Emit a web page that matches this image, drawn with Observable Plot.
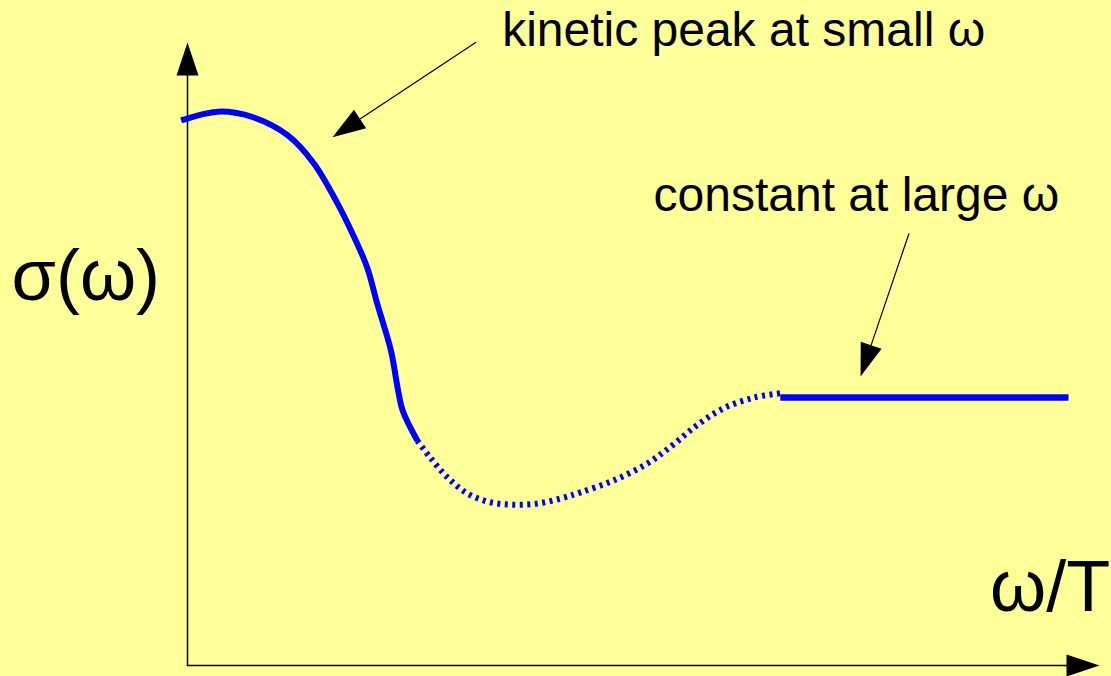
<!DOCTYPE html>
<html><head><meta charset="utf-8">
<script src="https://cdn.jsdelivr.net/npm/d3@7"></script>
<script src="https://cdn.jsdelivr.net/npm/@observablehq/plot@0.6"></script>
<style>html,body{margin:0;padding:0;background:#ffff99;overflow:hidden}#chart svg{display:block}</style>
</head><body><div id="chart"></div>
<script>
// ω/T (arbitrary units) and σ(ω) (arbitrary units)
const solidX = [-0.07, 0.34, 0.72, 1.10, 1.38, 1.64, 1.81, 1.97, 2.08, 2.23, 2.31, 2.36, 2.52];
const solidY = [8.75, 8.89, 8.80, 8.51, 8.07, 7.43, 6.93, 6.39, 5.81, 5.06, 4.41, 4.09, 3.61];
const dottedX = [2.52, 2.66, 2.85, 3.07, 3.32, 3.58, 3.84, 4.09, 4.31, 4.67, 5.04, 5.33, 5.59, 5.88, 6.21, 6.50];
const dottedY = [3.61, 3.34, 3.02, 2.76, 2.62, 2.58, 2.60, 2.68, 2.78, 2.97, 3.24, 3.55, 3.86, 4.13, 4.30, 4.37];
const flatX = [6.50, 9.66];
const flatY = [4.30, 4.30];

const noteText = ["kinetic peak at small ω", "constant at large ω"];
const noteX = [3.45, 5.11];
const noteY = [9.94, 7.30];

const titleText = ["σ(ω)", "ω/T"];
const titleX = [-1.93, 8.80];
const titleY = [5.86, 0.88];

// arrows: axes (x, y) and two annotation pointers
const arrowFromX = [0, 0, 3.16, 7.91];
const arrowFromY = [0, 0, 10.0, 6.93];
const arrowToX = [10, 0, 1.59, 7.38];
const arrowToY = [0, 10, 8.48, 4.64];

const W = 1111, H = 676, mL = 187, mR = 12, mT = 42, mB = 11;
const kx = (W - mL - mR) / 10, ky = (H - mT - mB) / 10;
const headLen = 33, headHalf = 11;

const shafts = [], heads = [];
arrowFromX.forEach((_, i) => {
  const x0 = arrowFromX[i], y0 = arrowFromY[i], x1 = arrowToX[i], y1 = arrowToY[i];
  const dx = (x1 - x0) * kx, dy = -(y1 - y0) * ky;
  const len = Math.hypot(dx, dy), ux = dx / len, uy = dy / len;
  const bx = -ux * headLen, by = -uy * headLen;
  const toData = (px, py) => ({x: x1 + px / kx, y: y1 - py / ky});
  const base = toData(bx, by);
  shafts.push({id: i, x: x0, y: y0}, {id: i, x: base.x, y: base.y});
  const c1 = toData(bx - uy * headHalf, by + ux * headHalf);
  const c2 = toData(bx + uy * headHalf, by - ux * headHalf);
  heads.push({id: i, x: x1, y: y1}, {id: i, ...c1}, {id: i, ...c2});
});

const solid = solidX.map((x, i) => ({x, y: solidY[i]}));
const dotted = dottedX.map((x, i) => ({x, y: dottedY[i]}));
const flat = flatX.map((x, i) => ({x, y: flatY[i]}));
const notes = noteText.map((t, i) => ({t, x: noteX[i], y: noteY[i]}));
const titles = titleText.map((t, i) => ({t, x: titleX[i], y: titleY[i]}));

const chart = Plot.plot({
  width: W, height: H,
  marginLeft: mL, marginRight: mR, marginTop: mT, marginBottom: mB,
  x: {domain: [0, 10], axis: null},
  y: {domain: [0, 10], axis: null},
  style: {background: "transparent", fontFamily: "'Liberation Sans', Arial, sans-serif", overflow: "visible"},
  marks: [
    Plot.line(shafts.filter(d => d.id < 2), {x: "x", y: "y", z: "id", stroke: "black", strokeWidth: 1.5}),
    Plot.line(shafts.filter(d => d.id >= 2), {x: "x", y: "y", z: "id", stroke: "black", strokeWidth: 1.2}),
    Plot.line(heads, {x: "x", y: "y", z: "id", fill: "black", stroke: "none"}),
    Plot.line(dotted, {x: "x", y: "y", curve: "catmull-rom", stroke: "#0000ff", strokeWidth: 6, strokeDasharray: "3,4.5", strokeLinecap: "butt"}),
    Plot.line(solid, {x: "x", y: "y", curve: "catmull-rom", stroke: "#0000ff", strokeWidth: 6, strokeLinecap: "butt"}),
    Plot.line(flat, {x: "x", y: "y", stroke: "#0000ff", strokeWidth: 6.5, strokeLinecap: "butt"}),
    Plot.text(notes, {x: "x", y: "y", text: "t", fontSize: 48, fill: "black", textAnchor: "start", lineAnchor: "bottom"}),
    Plot.text(titles, {x: "x", y: "y", text: "t", fontSize: 72, fill: "black", textAnchor: "start", lineAnchor: "bottom"})
  ]
});
document.getElementById("chart").appendChild(chart);
</script>
</body></html>
